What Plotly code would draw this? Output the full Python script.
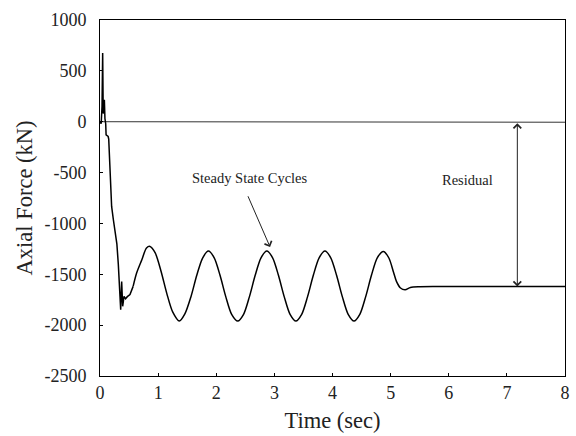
import plotly.graph_objects as go

# Transient part of the axial force response
t_transient = [0, 0.02, 0.035, 0.046, 0.055, 0.065, 0.075, 0.085, 0.098, 0.105, 0.14, 0.15,
               0.172, 0.2, 0.23, 0.26, 0.29, 0.315, 0.34, 0.356, 0.373, 0.39, 0.413, 0.44,
               0.47, 0.516, 0.57]
f_transient = [0, -20, 150, 675, 80, 150, 216, 30, -20, -130, -145, -170,
               -505, -833, -964, -1100, -1200, -1400, -1652, -1848, -1570, -1815, -1717, -1740,
               -1720, -1700, -1619]

# Steady state cycles and residual plateau
t_cycles = [0.57, 0.63, 0.72, 0.80, 0.86, 0.95, 1.05, 1.15, 1.25, 1.365, 1.46, 1.565, 1.665,
            1.765, 1.865, 1.965, 2.065, 2.165, 2.265, 2.37, 2.47, 2.57, 2.67, 2.77, 2.87,
            2.97, 3.07, 3.17, 3.27, 3.37, 3.47, 3.57, 3.67, 3.77, 3.87, 3.97, 4.07, 4.17,
            4.27, 4.37, 4.47, 4.57, 4.67, 4.77, 4.875, 4.97, 5.05, 5.1, 5.17, 5.25, 5.34,
            5.5, 6.0, 7.0, 8.0]
f_cycles = [-1619, -1488, -1357, -1242, -1226, -1290, -1470, -1690, -1870, -1960, -1890, -1720,
            -1510, -1340, -1272, -1338, -1510, -1722, -1894, -1960, -1894, -1722, -1510, -1338,
            -1272, -1338, -1510, -1722, -1894, -1960, -1894, -1722, -1510, -1338, -1272, -1338,
            -1510, -1722, -1894, -1960, -1894, -1722, -1510, -1338, -1275, -1340, -1480, -1570,
            -1635, -1652, -1629, -1622, -1621, -1620, -1620]

# Reference (near-zero) line
t_ref = [0, 8]
f_ref = [0, -5]

x_ticks = [0, 1, 2, 3, 4, 5, 6, 7, 8]
y_ticks = [1000, 500, 0, -500, -1000, -1500, -2000, -2500]

FONT = "Times New Roman"
TICKFONT = dict(family="serif", size=18, color="#222")

fig = go.Figure()
fig.add_trace(go.Scatter(x=t_ref, y=f_ref, mode="lines",
                         line=dict(color="#333333", width=1), showlegend=False))
fig.add_trace(go.Scatter(x=t_transient, y=f_transient, mode="lines",
                         line=dict(color="black", width=1.5), showlegend=False))
fig.add_trace(go.Scatter(x=t_cycles, y=f_cycles, mode="lines",
                         line=dict(color="black", width=1.5, shape="spline", smoothing=0.8),
                         showlegend=False))

# Steady State Cycles label + arrow
fig.add_annotation(x=2.58, y=-550, text="Steady State Cycles", showarrow=False,
                   font=dict(family=FONT, size=14.5, color="#222"))
fig.add_annotation(x=2.926, y=-1232, ax=2.535, ay=-718, axref="x", ayref="y",
                   xref="x", yref="y", text="", showarrow=True,
                   arrowhead=4, arrowsize=1.5, arrowwidth=1, arrowcolor="#222")

# Residual label + double arrow
fig.add_annotation(x=6.33, y=-570, text="Residual", showarrow=False,
                   font=dict(family=FONT, size=14.5, color="#222"))
fig.add_annotation(x=7.18, y=-1620, ax=7.18, ay=0, axref="x", ayref="y",
                   xref="x", yref="y", text="", showarrow=True, arrowside="end+start",
                   arrowhead=4, arrowsize=1.5, arrowwidth=1, arrowcolor="#222")

fig.update_layout(
    width=576, height=436,
    margin=dict(l=100, r=11, t=20, b=60),
    paper_bgcolor="white", plot_bgcolor="white",
)
fig.update_xaxes(
    range=[0, 8], tickvals=x_ticks, tickfont=TICKFONT,
    showgrid=False, zeroline=False, showline=True, linecolor="black", linewidth=1,
    mirror=True, ticks="inside", ticklen=3, tickcolor="black", automargin=False,
    title=dict(text="Time (sec)", font=dict(family=FONT, size=22.5, color="#222"), standoff=10),
)
fig.update_yaxes(
    range=[-2500, 1000], tickvals=y_ticks, ticktext=[str(v) for v in y_ticks],
    tickfont=TICKFONT,
    showgrid=False, zeroline=False, showline=True, linecolor="black", linewidth=1,
    mirror=True, ticks="inside", ticklen=3, tickcolor="black", automargin=False,
    ticklabelstandoff=9,
    title=dict(text="Axial Force (kN)", font=dict(family=FONT, size=22.5, color="#222"), standoff=5),
)

fig.write_html("out.html")
